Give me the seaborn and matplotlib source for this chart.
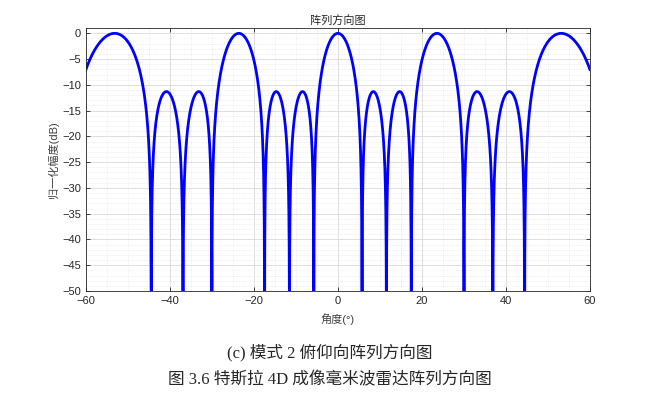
import numpy as np
import pandas as pd
import matplotlib
matplotlib.use("Agg")
import matplotlib.pyplot as plt
import seaborn as sns

# array parameters read from the pattern (4 elements, 2.5 wavelength spacing)
n_elements = 4
spacing_wl = 2.5
angles = np.linspace(-60, 60, 4801)

xticks = [-60, -40, -20, 0, 20, 40, 60]
yticks = [0, -5, -10, -15, -20, -25, -30, -35, -40, -45, -50]

# uniform linear array factor, normalised
psi = 2 * np.pi * spacing_wl * np.sin(np.deg2rad(angles))
af = np.abs(np.exp(1j * np.outer(np.arange(n_elements), psi)).sum(axis=0)) / n_elements
af_db = 20 * np.log10(np.maximum(af, 1e-6))
df = pd.DataFrame({"angle": angles, "db": af_db})

sns.set_style("ticks")
plt.rcParams["font.family"] = ["Liberation Sans", "Noto Sans CJK SC", "DejaVu Sans"]

fig = plt.figure(figsize=(6.6, 3.97), dpi=100)
ax = fig.add_axes([0.130, 0.267, 0.764, 0.662])

sns.lineplot(data=df, x="angle", y="db", color="#0000ff", linewidth=2.0, ax=ax)

ax.set_xlim(-60, 60)
ax.set_ylim(-50, 1)
ax.set_xticks(xticks)
ax.set_yticks(yticks)
ax.set_xticks(np.arange(-60, 61, 5), minor=True)
ax.set_yticks(np.arange(-50, 1, 1), minor=True)
ax.grid(which="major", color="#d9d9d9", linewidth=0.6)
ax.grid(which="minor", color="#e3e3e3", linewidth=0.5, linestyle=":")
ax.tick_params(which="major", direction="in", length=3, labelsize=8, colors="#262626", width=0.6)
ax.tick_params(which="minor", length=0)
ax.tick_params(top=True, right=True)
for s in ax.spines.values():
    s.set_color("#262626")
    s.set_linewidth(0.6)

ax.set_title("阵列方向图", fontsize=8, color="#262626", pad=3)
ax.set_xlabel("角度(°)", fontsize=8, color="#404040", labelpad=5)
ax.set_ylabel("归一化幅度(dB)", fontsize=8, color="#404040", labelpad=2)

cap = ["Liberation Serif", "Noto Sans CJK SC"]
fig.text(0.5, 0.113, "(c) 模式 2 俯仰向阵列方向图", ha="center", va="center", fontsize=12, family=cap)
fig.text(0.5, 0.042, "图 3.6 特斯拉 4D 成像毫米波雷达阵列方向图", ha="center", va="center", fontsize=12, family=cap)

fig.savefig("out.png", dpi=100)
